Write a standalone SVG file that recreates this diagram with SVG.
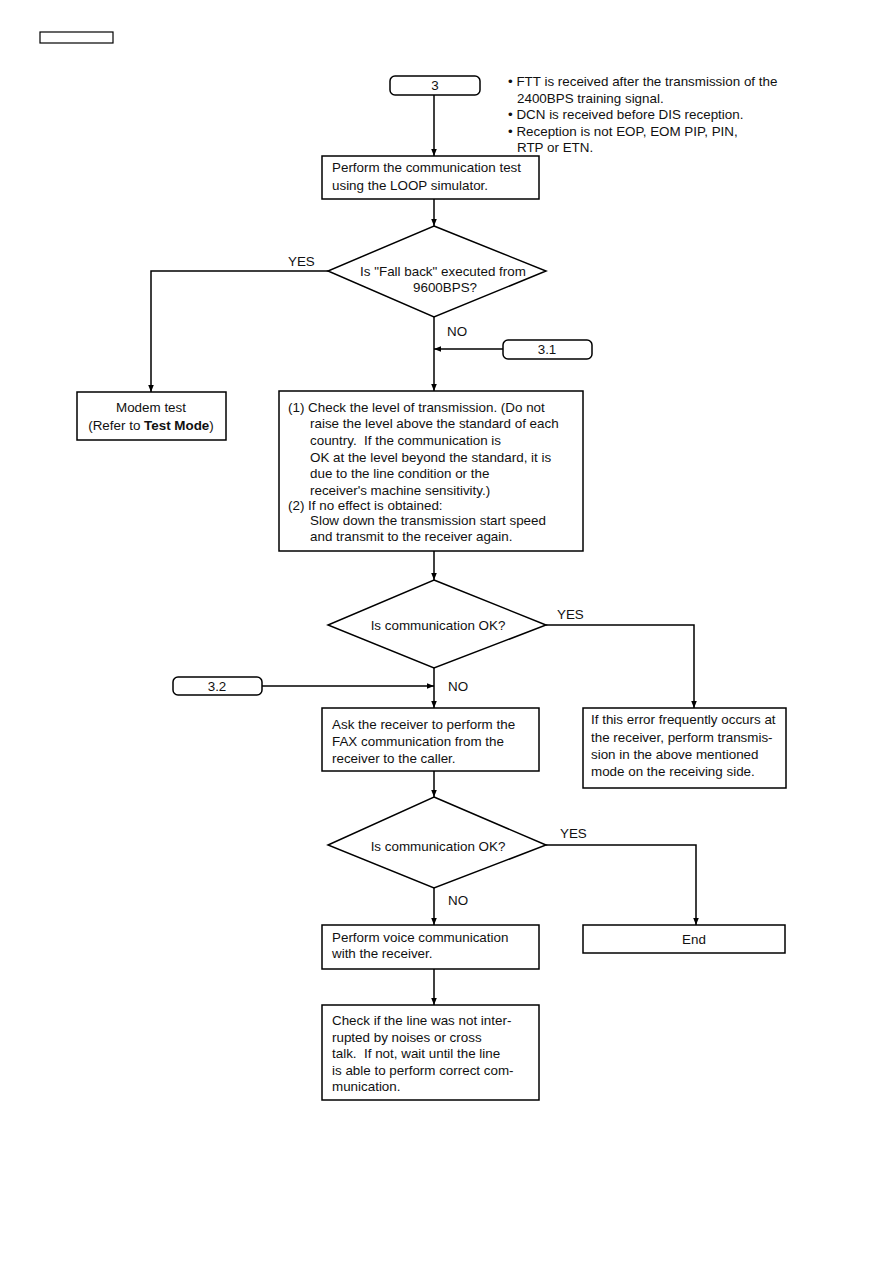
<svg xmlns="http://www.w3.org/2000/svg" width="893" height="1263" viewBox="0 0 893 1263">
<style>
.s{fill:#fff;stroke:#000;stroke-width:1.5}
.c{fill:none;stroke:#000;stroke-width:1.5}
text{font-family:"Liberation Sans",Arial,sans-serif;font-size:13.4px;fill:#111;white-space:pre}
.m{text-anchor:middle}
</style>
<defs>
<marker id="ah" viewBox="0 0 10 10" refX="10" refY="5" markerWidth="7" markerHeight="7" markerUnits="userSpaceOnUse" orient="auto">
<path d="M0,1 L10,5 L0,9 Z" fill="#000"/>
</marker>
</defs>
<rect width="893" height="1263" fill="#fff"/>
<rect x="40" y="32" width="73" height="11" fill="#fff" stroke="#000" stroke-width="1.2"/>

<g id="connectors">
<path class="c" d="M434,95 V156" marker-end="url(#ah)"/>
<path class="c" d="M434,199 V226" marker-end="url(#ah)"/>
<path class="c" d="M328,271 H151 V392" marker-end="url(#ah)"/>
<path class="c" d="M434,317 V391" marker-end="url(#ah)"/>
<path class="c" d="M503,349 H434" marker-end="url(#ah)"/>
<path class="c" d="M434,551 V580" marker-end="url(#ah)"/>
<path class="c" d="M546,625 H694 V708" marker-end="url(#ah)"/>
<path class="c" d="M434,668 V708" marker-end="url(#ah)"/>
<path class="c" d="M262,686 H434" marker-end="url(#ah)"/>
<path class="c" d="M434,771 V797" marker-end="url(#ah)"/>
<path class="c" d="M546,845 H696 V925" marker-end="url(#ah)"/>
<path class="c" d="M434,888 V925" marker-end="url(#ah)"/>
<path class="c" d="M434,969 V1005" marker-end="url(#ah)"/>
<text x="288" y="266">YES</text>
<text x="447" y="336">NO</text>
<text x="557" y="619">YES</text>
<text x="448" y="691">NO</text>
<text x="560" y="838">YES</text>
<text x="448" y="905">NO</text>
</g>

<g id="start3">
<rect class="s" x="390" y="76" width="90" height="19" rx="5"/>
<text class="m" x="435" y="90">3</text>
</g>

<g id="notes">
<text x="508" y="86">• FTT is received after the transmission of the</text>
<text x="517" y="103">2400BPS training signal.</text>
<text x="508" y="119">• DCN is received before DIS reception.</text>
<text x="508" y="136">• Reception is not EOP, EOM PIP, PIN,</text>
<text x="517" y="152">RTP or ETN.</text>
</g>

<g id="loopTest">
<rect class="s" x="322" y="156" width="217" height="43"/>
<text x="332" y="172">Perform the communication test</text>
<text x="332" y="190">using the LOOP simulator.</text>
</g>

<g id="decision1">
<polygon class="s" points="434,226 546,271 434,317 328,271"/>
<text class="m" x="443" y="276">Is "Fall back" executed from</text>
<text class="m" x="445" y="292">9600BPS?</text>
</g>

<g id="term31">
<rect class="s" x="503" y="340" width="89" height="19" rx="5"/>
<text class="m" x="547" y="354">3.1</text>
</g>

<g id="modemTest">
<rect class="s" x="77" y="392" width="149" height="48"/>
<text class="m" x="151" y="412">Modem test</text>
<text class="m" x="151" y="430">(Refer to <tspan font-weight="bold">Test Mode</tspan>)</text>
</g>

<g id="checkLevel">
<rect class="s" x="279" y="391" width="304" height="160"/>
<text x="288" y="412">(1) Check the level of transmission. (Do not</text>
<text x="310" y="428">raise the level above the standard of each</text>
<text x="310" y="445">country.  If the communication is</text>
<text x="310" y="462">OK at the level beyond the standard, it is</text>
<text x="310" y="478">due to the line condition or the</text>
<text x="310" y="495">receiver's machine sensitivity.)</text>
<text x="288" y="510">(2) If no effect is obtained:</text>
<text x="310" y="525">Slow down the transmission start speed</text>
<text x="310" y="541">and transmit to the receiver again.</text>
</g>

<g id="decision2">
<polygon class="s" points="434,580 546,625 434,668 328,625"/>
<text class="m" x="438" y="630">Is communication OK?</text>
</g>

<g id="term32">
<rect class="s" x="173" y="677" width="89" height="18" rx="5"/>
<text class="m" x="217" y="691">3.2</text>
</g>

<g id="askReceiver">
<rect class="s" x="322" y="708" width="217" height="63"/>
<text x="332" y="729">Ask the receiver to perform the</text>
<text x="332" y="746">FAX communication from the</text>
<text x="332" y="763">receiver to the caller.</text>
</g>

<g id="errorNote">
<rect class="s" x="583" y="708" width="203" height="80"/>
<text x="591" y="724">If this error frequently occurs at</text>
<text x="591" y="742">the receiver, perform transmis-</text>
<text x="591" y="759">sion in the above mentioned</text>
<text x="591" y="776">mode on the receiving side.</text>
</g>

<g id="decision3">
<polygon class="s" points="434,797 546,845 434,888 328,845"/>
<text class="m" x="438" y="851">Is communication OK?</text>
</g>

<g id="voiceComm">
<rect class="s" x="322" y="925" width="217" height="44"/>
<text x="332" y="942">Perform voice communication</text>
<text x="332" y="958">with the receiver.</text>
</g>

<g id="endBox">
<rect class="s" x="583" y="925" width="202" height="28"/>
<text class="m" x="694" y="944">End</text>
</g>

<g id="checkLine">
<rect class="s" x="322" y="1005" width="217" height="95"/>
<text x="332" y="1025">Check if the line was not inter-</text>
<text x="332" y="1042">rupted by noises or cross</text>
<text x="332" y="1058">talk.  If not, wait until the line</text>
<text x="332" y="1075">is able to perform correct com-</text>
<text x="332" y="1091">munication.</text>
</g>
</svg>
